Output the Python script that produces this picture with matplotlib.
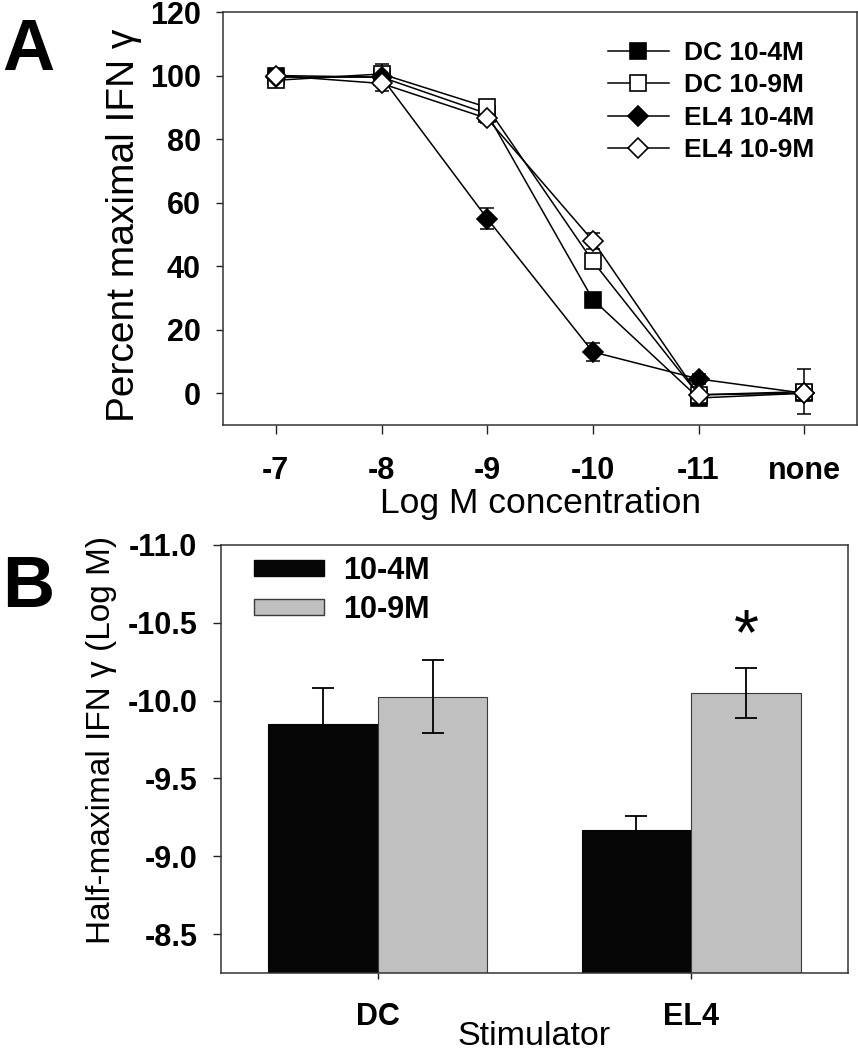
import numpy as np
import matplotlib.pyplot as plt
from matplotlib.patches import Patch

plt.rcParams["font.family"] = ["Liberation Sans", "DejaVu Sans"]
plt.rcParams["axes.unicode_minus"] = False

# Panel A: dose response, percent of maximal IFN-gamma
conc_labels = ["-7", "-8", "-9", "-10", "-11", "none"]
series_names = ["DC 10-4M", "DC 10-9M", "EL4 10-4M", "EL4 10-9M"]
dc_4 = [100, 99.5, 88, 29.5, -1.5, 0]
dc_4_err = [1, 1, 1.5, 2, 1, 1]
dc_9 = [98.5, 100.5, 90, 41.5, -0.5, 0.5]
dc_9_err = [1, 3, 1.5, 2, 1, 7]
el4_4 = [99.5, 99.5, 55, 13, 4.5, 0]
el4_4_err = [1, 1, 3.3, 2.7, 1.5, 1]
el4_9 = [100, 97.5, 86.5, 48, -0.5, 0]
el4_9_err = [1, 2.5, 1.5, 2.5, 1, 1]

# Panel B: half-maximal concentration
stimulators = ["DC", "EL4"]
group_names = ["10-4M", "10-9M"]
half_max_4 = [-9.85, -9.17]
half_max_4_err = [0.23, 0.09]
half_max_9 = [-10.025, -10.05]
half_max_9_err = [0.235, 0.16]
significant = [False, True]

W, H = 858, 1050
fig = plt.figure(figsize=(W / 100, H / 100), dpi=100)

# ---- Panel A ----
ax1 = fig.add_axes([223 / W, 1 - 425 / H, (857 - 223) / W, 413 / H])
x = np.arange(len(conc_labels))

styles = [
    ("s", "black", 11.3),
    ("s", "white", 11.3),
    ("D", "black", 10.5),
    ("D", "white", 10.5),
]
values = [dc_4, dc_9, el4_4, el4_9]
errors = [dc_4_err, dc_9_err, el4_4_err, el4_9_err]

handles = []
for i, (vals, errs, (mk, fc, ms)) in enumerate(zip(values, errors, styles)):
    ax1.errorbar(x, vals, yerr=errs, fmt="none", ecolor="black", elinewidth=1.1,
                 capsize=5, capthick=1.1, zorder=2 + i)
    line, = ax1.plot(x, vals, color="black", lw=1.1, marker=mk, ms=ms, mfc=fc,
                     mec="black", mew=1.2, zorder=2 + i, label=series_names[i])
    handles.append(line)

ax1.set_xlim(-0.5, 5.5)
ax1.set_ylim(-10, 120)
ax1.set_xticks(x)
ax1.set_xticklabels(conc_labels)
ax1.set_yticks(np.arange(0, 121, 20))
ax1.tick_params(axis="x", direction="out", length=6.5, width=1, pad=16,
                labelsize=22, colors="#222222", labelcolor="black")
ax1.tick_params(axis="y", direction="out", length=5, width=1, pad=11,
                labelsize=22, colors="#222222", labelcolor="black")
for lab in ax1.get_xticklabels() + ax1.get_yticklabels():
    lab.set_fontweight("bold")
for sp in ax1.spines.values():
    sp.set_linewidth(1.1)
    sp.set_color("#333333")

ax1.set_xlabel("Log M concentration", fontsize=25.5, va="center")
ax1.xaxis.set_label_coords(0.5, -0.189)
ax1.set_ylabel("Percent maximal IFN γ", fontsize=28, va="center")
ax1.yaxis.set_label_coords(-0.156, 0.484)

ax1.legend(handles=handles, loc="upper left", bbox_to_anchor=(0.607, 0.93),
           frameon=False, borderpad=0, borderaxespad=0, handlelength=2.3,
           handletextpad=0.6, labelspacing=0.32,
           prop={"size": 19, "weight": "bold"})

# ---- Panel B ----
ax2 = fig.add_axes([221 / W, 1 - 973 / H, (848 - 221) / W, 428 / H])
xb = np.arange(len(stimulators))
bw = 0.35
base = -8.25
ax2.bar(xb - bw / 2, np.array(half_max_4) - base, bottom=base, width=bw,
        color="#050505", edgecolor="#050505", linewidth=0.8, zorder=2)
ax2.bar(xb + bw / 2, np.array(half_max_9) - base, bottom=base, width=bw,
        color="#c0c0c0", edgecolor="#3a3a3a", linewidth=0.8, zorder=2)
# error bars of the black bars sit behind them, so only the upper half shows
ax2.errorbar(xb - bw / 2, half_max_4, yerr=half_max_4_err, fmt="none",
             ecolor="black", elinewidth=1.3, capsize=8, capthick=1.3, zorder=1.5)
ax2.errorbar(xb + bw / 2, half_max_9, yerr=half_max_9_err, fmt="none",
             ecolor="black", elinewidth=1.3, capsize=8, capthick=1.3, zorder=3)

for xi, v, e, sig in zip(xb, half_max_9, half_max_9_err, significant):
    if sig:
        ax2.text(xi + bw / 2, v - e - 0.2, "*", fontsize=46, ha="center",
                 va="center", color="black")

ax2.set_xlim(-0.5, 1.5)
ax2.set_ylim(base, -11.0)
ax2.set_xticks(xb)
ax2.set_xticklabels(stimulators)
yt = np.arange(-11.0, -8.4, 0.5)
ax2.set_yticks(yt)
ax2.set_yticklabels(["%.1f" % t for t in yt])
ax2.tick_params(axis="x", direction="out", length=4.5, width=1, pad=16.5,
                labelsize=22, colors="#222222", labelcolor="black")
ax2.tick_params(axis="y", direction="out", length=6, width=1, pad=11,
                labelsize=22, colors="#222222", labelcolor="black")
for lab in ax2.get_xticklabels() + ax2.get_yticklabels():
    lab.set_fontweight("bold")
for sp in ax2.spines.values():
    sp.set_linewidth(1.1)
    sp.set_color("#333333")

ax2.set_xlabel("Stimulator", fontsize=24.5, va="center")
ax2.xaxis.set_label_coords(0.5, -0.148)
ax2.set_ylabel("Half-maximal IFN γ (Log M)", fontsize=24, va="center")
ax2.yaxis.set_label_coords(-0.19, 0.544)

leg_handles = [Patch(facecolor="#050505", edgecolor="#050505"),
               Patch(facecolor="#c0c0c0", edgecolor="#3a3a3a")]
ax2.legend(leg_handles, group_names, loc="upper left",
           bbox_to_anchor=(0.052, 0.975), frameon=False, borderpad=0,
           borderaxespad=0, handlelength=2.32, handleheight=0.43,
           handletextpad=0.62, labelspacing=0.3,
           prop={"size": 22, "weight": "bold"})

# panel letters
fig.text(0.003, 1 - 70 / H, "A", fontsize=52, fontweight="bold", va="baseline")
fig.text(0.003, 1 - 607 / H, "B", fontsize=52, fontweight="bold", va="baseline")

fig.savefig("out.png", dpi=100)
